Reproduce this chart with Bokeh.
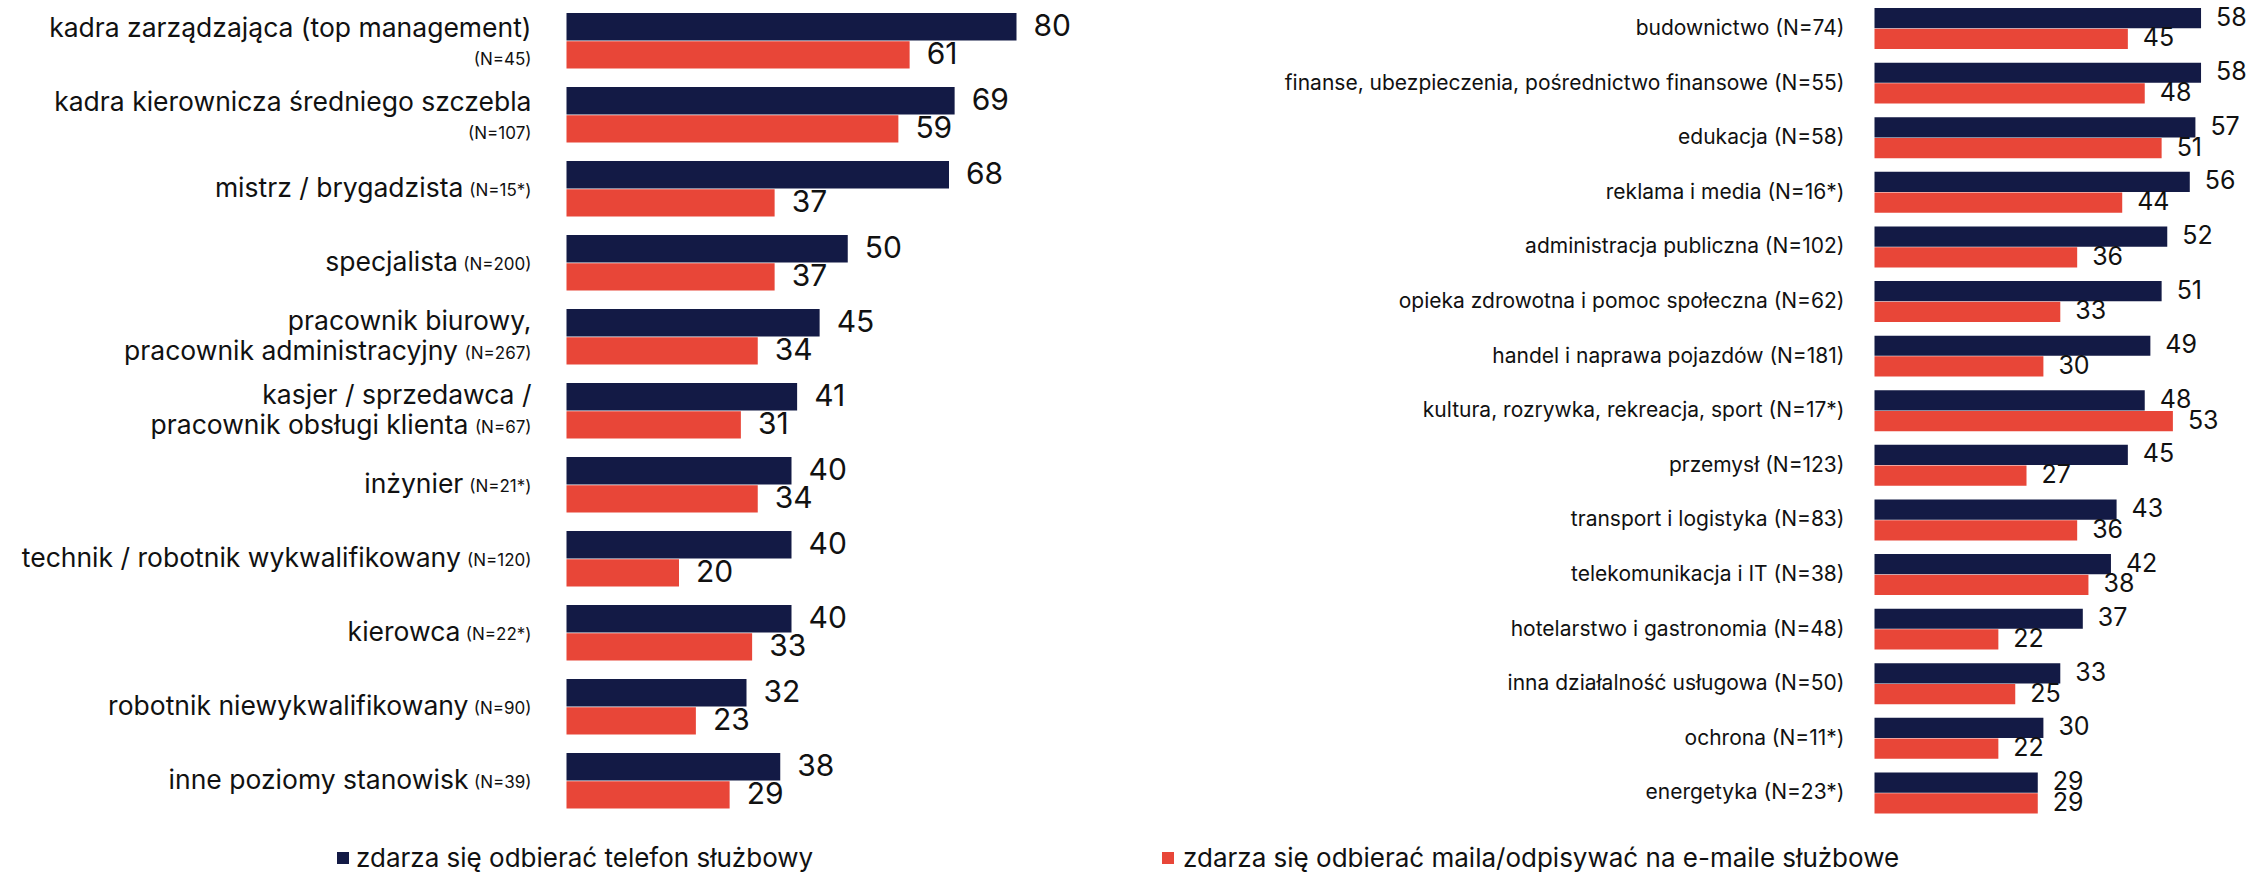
from bokeh.plotting import figure
from bokeh.layouts import row
from bokeh.models import ColumnDataSource, Range1d, Legend, LegendItem
from bokeh.transform import dodge
from bokeh.core.properties import value
from bokeh.embed import file_html
from bokeh.resources import INLINE

# ---------------- data ----------------
series = ["zdarza się odbierać telefon służbowy",
          "zdarza się odbierać maila/odpisywać na e-maile służbowe"]

left_labels = [
    "kadra zarządzająca (top management)",
    "kadra kierownicza średniego szczebla",
    "mistrz / brygadzista",
    "specjalista",
    "pracownik biurowy,\npracownik administracyjny",
    "kasjer / sprzedawca /\npracownik obsługi klienta",
    "inżynier",
    "technik / robotnik wykwalifikowany",
    "kierowca",
    "robotnik niewykwalifikowany",
    "inne poziomy stanowisk",
]
left_n = ["(N=45)", "(N=107)", "(N=15*)", "(N=200)", "(N=267)", "(N=67)",
          "(N=21*)", "(N=120)", "(N=22*)", "(N=90)", "(N=39)"]
left_n_own_line = [True, True, False, False, False, False, False, False, False, False, False]
left_phone = [80, 69, 68, 50, 45, 41, 40, 40, 40, 32, 38]
left_mail = [61, 59, 37, 37, 34, 31, 34, 20, 33, 23, 29]

right_labels = [
    "budownictwo (N=74)",
    "finanse, ubezpieczenia, pośrednictwo finansowe (N=55)",
    "edukacja (N=58)",
    "reklama i media (N=16*)",
    "administracja publiczna (N=102)",
    "opieka zdrowotna i pomoc społeczna (N=62)",
    "handel i naprawa pojazdów (N=181)",
    "kultura, rozrywka, rekreacja, sport (N=17*)",
    "przemysł (N=123)",
    "transport i logistyka (N=83)",
    "telekomunikacja i IT (N=38)",
    "hotelarstwo i gastronomia (N=48)",
    "inna działalność usługowa (N=50)",
    "ochrona (N=11*)",
    "energetyka (N=23*)",
]
right_phone = [58, 58, 57, 56, 52, 51, 49, 48, 45, 43, 42, 37, 33, 30, 29]
right_mail = [45, 48, 51, 44, 36, 33, 30, 53, 27, 36, 38, 22, 25, 22, 29]

# ---------------- style ----------------
NAVY = "#131a45"
RED = "#e84638"
TXT = "#111111"
FONT = "Inter"
W, H = 2257, 875
LW = 1158
RW = W - LW

BAR_H = 0.37
OFF = 0.19

# approximate glyph widths (em) for measuring the small "(N=..)" labels
CW = {"(": 0.33, ")": 0.33, "N": 0.74, "=": 0.6, "*": 0.47, "1": 0.45}


def text_w(s, size):
    return sum(CW.get(c, 0.62) for c in s) * size


def make_fig(width, zero_px, px_per_unit, first_row_px, row_px):
    x_range = Range1d(-zero_px / px_per_unit, (width - zero_px) / px_per_unit)
    top = -first_row_px / row_px
    y_range = Range1d(top + H / row_px, top)
    p = figure(width=width, height=H, x_range=x_range, y_range=y_range,
               output_backend="svg", toolbar_location=None, min_border=0,
               x_axis_location=None, y_axis_location=None)
    p.grid.visible = False
    p.outline_line_color = None
    p.background_fill_color = "white"
    p.border_fill_color = "white"
    return p


def add_bars(p, phone, mail, val_size, val_off):
    n = len(phone)
    src = ColumnDataSource(dict(
        y=list(range(n)), phone=phone, mail=mail,
        phone_t=[str(v) for v in phone], mail_t=[str(v) for v in mail]))
    r1 = p.hbar(y=dodge("y", -OFF), left=0, right="phone", height=BAR_H,
                fill_color=NAVY, line_color=None, source=src)
    r2 = p.hbar(y=dodge("y", OFF), left=0, right="mail", height=BAR_H,
                fill_color=RED, line_color=None, source=src)
    for col, off in (("phone", -OFF), ("mail", OFF)):
        p.text(x=col, y=dodge("y", off), text=col + "_t", source=src,
               x_offset=val_off, y_offset=-2, text_align="left", text_baseline="middle",
               text_font=value(FONT), text_font_size=val_size, text_color=TXT)
    return r1, r2


# ---------------- left panel ----------------
pl = make_fig(LW, 566, 5.625, 40.3, 74)
rl1, rl2 = add_bars(pl, left_phone, left_mail, "30px", 17)

MAIN_SIZE = 26.5
N_SIZE = 17
GAP = 35
BIAS = -2
main_rows = dict(y=[], t=[], xo=[], yo=[])
n_rows = dict(y=[], t=[], xo=[], yo=[])
for i, (lab, nl, own) in enumerate(zip(left_labels, left_n, left_n_own_line)):
    lines = lab.split("\n")
    total = len(lines) + (1 if own else 0)
    if total == 1:
        centers = [0]
    else:
        centers = [-12, 20] if own else [-15, 15]
    for k, ln in enumerate(lines):
        xo = -GAP
        if (not own) and k == len(lines) - 1:
            xo = -GAP - text_w(nl, N_SIZE) - 8
        main_rows["y"].append(i)
        main_rows["t"].append(ln)
        main_rows["xo"].append(xo)
        main_rows["yo"].append(centers[k] + BIAS)
    n_rows["y"].append(i)
    n_rows["t"].append(nl)
    n_rows["xo"].append(-GAP)
    if own:
        n_rows["yo"].append(centers[-1] + BIAS)
    else:
        # align small text baseline with the main line's baseline
        n_rows["yo"].append(centers[len(lines) - 1] + BIAS + 0.365 * (MAIN_SIZE - N_SIZE))

main_rows["x"] = [0] * len(main_rows["y"])
n_rows["x"] = [0] * len(n_rows["y"])
pl.text(x="x", y="y", text="t", x_offset="xo", y_offset="yo",
        source=ColumnDataSource(main_rows),
        text_align="right", text_baseline="middle",
        text_font=value(FONT), text_font_size=f"{MAIN_SIZE}px", text_color=TXT)
pl.text(x="x", y="y", text="t", x_offset="xo", y_offset="yo",
        source=ColumnDataSource(n_rows),
        text_align="right", text_baseline="middle",
        text_font=value(FONT), text_font_size=f"{N_SIZE}px", text_color=TXT)

leg_l = Legend(items=[LegendItem(label=series[0], renderers=[rl1])],
               location=(335, 2), orientation="horizontal",
               glyph_width=15, glyph_height=15, label_standoff=6,
               label_text_font=FONT, label_text_font_size="26px",
               label_text_color=TXT, background_fill_alpha=0,
               border_line_color=None, padding=0, margin=0, spacing=0)
pl.add_layout(leg_l)

# ---------------- right panel ----------------
pr = make_fig(RW, 716, 5.63, 28, 54.6)
rr1, rr2 = add_bars(pr, right_phone, right_mail, "25px", 15)

rsrc = ColumnDataSource(dict(x=[0] * len(right_labels), y=list(range(len(right_labels))),
                             t=right_labels))
pr.text(x="x", y="y", text="t", source=rsrc, x_offset=-30, y_offset=-1,
        text_align="right", text_baseline="middle",
        text_font=value(FONT), text_font_size="21px", text_color=TXT)

leg_r = Legend(items=[LegendItem(label=series[1], renderers=[rr2])],
               location=(2, 2), orientation="horizontal",
               glyph_width=15, glyph_height=15, label_standoff=8,
               label_text_font=FONT, label_text_font_size="26px",
               label_text_color=TXT, background_fill_alpha=0,
               border_line_color=None, padding=0, margin=0, spacing=0)
pr.add_layout(leg_r)

layout = row(pl, pr)
open("out.html", "w").write(file_html(layout, INLINE))
